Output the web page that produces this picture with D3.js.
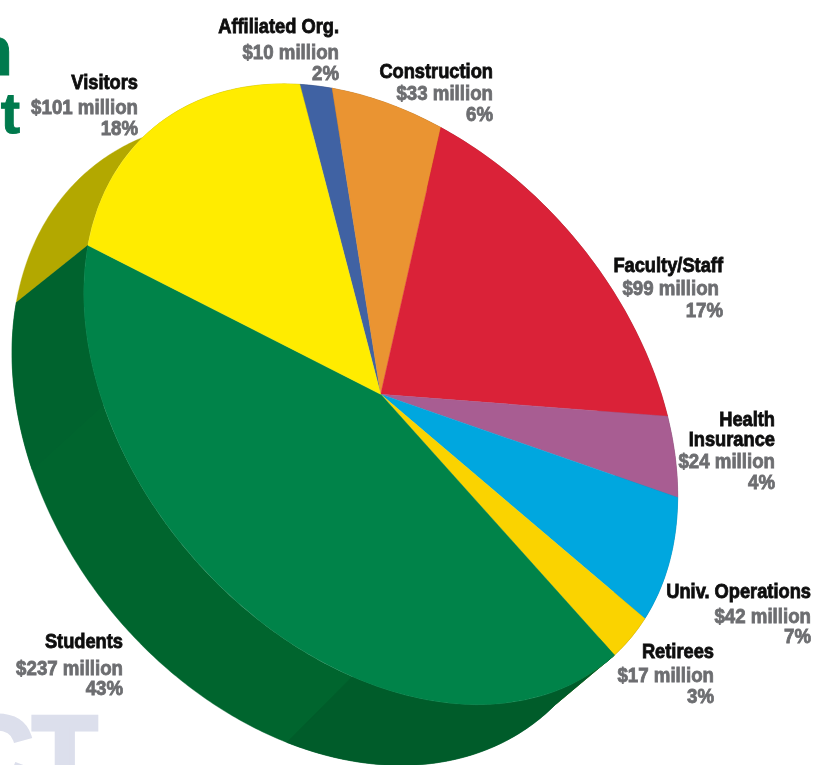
<!DOCTYPE html>
<html><head><meta charset="utf-8">
<script src="https://cdn.jsdelivr.net/npm/d3@7/dist/d3.min.js"></script>
<style>
html,body{margin:0;padding:0;background:#fff;overflow:hidden}
svg{display:block}
text{font-family:"Liberation Sans",sans-serif;font-weight:700}
</style></head><body>
<svg id="c" width="814" height="765"></svg>
<script>
const categories=["Affiliated Org.","Construction","Faculty/Staff","Health Insurance","Univ. Operations","Retirees","Students","Visitors"];
const amounts=[10,33,99,24,42,17,237,101];
const amountLabels=["$10 million","$33 million","$99 million","$24 million","$42 million","$17 million","$237 million","$101 million"];
const percentLabels=["2%","6%","17%","4%","7%","3%","43%","18%"];
const topColors=["#3f62a3","#ea9430","#da2237","#a85d92","#00a7df","#fad300","#048349","#ffec00"];
const sideColors=["#2c4472","#a36722","#981826","#753f66","#00749c","#af9300","#05652f","#b3a800"];

const startDeg=-15.8;
// top face and lower rim: centre x, centre y, then the ellipse frame
const rim={cx:380.7,cy:394.3,a:297,b:101.4,d:293.4};
const floor={cx:316,cy:443,a:304,b:90,d:309.5};
const svg=d3.select("#c");
const defs=svg.append("defs");
defs.append("filter").attr("id","soft").append("feGaussianBlur").attr("stdDeviation",0.6);
defs.append("filter").attr("id","softer").append("feGaussianBlur").attr("stdDeviation",0.35);

// cropped fragments of the surrounding page
const green="#007a4d",ghost="#dcdfec";
const bg=svg.append("g").attr("filter","url(#softer)");
bg.append("text").text("n").attr("x",13).attr("y",75).attr("text-anchor","end")
  .attr("fill",green).style("font-size","70px").attr("stroke",green).attr("stroke-width",1);
bg.append("text").text("t").attr("x",20).attr("y",133).attr("text-anchor","end")
  .attr("fill",green).style("font-size","58px").attr("stroke",green).attr("stroke-width",1);
bg.append("text").text("CT").attr("x",97).attr("y",790).attr("text-anchor","end")
  .attr("fill",ghost).attr("stroke",ghost).attr("stroke-width",5).style("font-size","105px");

const slices=d3.pie().sort(null).value(d=>d.v)
  .startAngle(startDeg*Math.PI/180).endAngle((startDeg+360)*Math.PI/180)
  (amounts.map((v,i)=>({v,i})));

const at=(e,t)=>{const u=Math.sin(t),v=-Math.cos(t);return [e.cx+e.a*u,e.cy+e.b*u+e.d*v];};
const line=d3.line();
function wall(a0,a1){
  const n=Math.max(4,Math.ceil((a1-a0)*90));
  const ts=d3.range(n+1).map(k=>a0+(a1-a0)*k/n);
  return line(ts.map(t=>at(rim,t)).concat(ts.slice().reverse().map(t=>at(floor,t))))+"Z";
}
const plate=svg.append("g").attr("filter","url(#softer)");
plate.append("g").selectAll("path").data(slices).join("path")
  .attr("d",d=>wall(d.startAngle,d.endAngle))
  .attr("fill",d=>sideColors[d.data.i]).attr("stroke",d=>sideColors[d.data.i]).attr("stroke-width",.4);
// tone changes along the Students wall
const st=slices[6],rad=Math.PI/180;
plate.append("path").attr("d",wall(st.startAngle,185.5*rad)).attr("fill","#035b2c").attr("stroke","#035b2c").attr("stroke-width",.4);
plate.append("path").attr("d",wall(249*rad,st.endAngle)).attr("fill","#05632f").attr("stroke","#05632f").attr("stroke-width",.4);
// top face
const arc=d3.arc().innerRadius(0).outerRadius(rim.a);
plate.append("g").attr("transform",`matrix(1,${rim.b/rim.a},0,${rim.d/rim.a},${rim.cx},${rim.cy})`)
  .selectAll("path").data(slices).join("path")
  .attr("d",arc)
  .attr("fill",d=>topColors[d.data.i]).attr("stroke",d=>topColors[d.data.i]).attr("stroke-width",.4);

// labels: right edge and the baseline of each line
const labelLayout=[
 {r:339,b:[33,59,80]},
 {r:493,b:[78,100,121]},
 {r:723,b:[272,295,317],inset:4},
 {r:775,b:[426,446,468,489],split:["Health","Insurance"]},
 {r:811,b:[598,623,643]},
 {r:714,b:[658,682,703]},
 {r:123,b:[648,675,695]},
 {r:138,b:[89,114,135]}
];
const lab=svg.append("g").attr("filter","url(#soft)");
const put=(g,s,x,y,fill,sx,sw)=>g.append("text").text(s)
  .attr("transform",`translate(${x},${y}) scale(${sx},1)`).attr("text-anchor","end")
  .attr("fill",fill).attr("stroke",fill).attr("stroke-width",sw).style("font-size","21px");
categories.forEach((c,i)=>{
  const L=labelLayout[i],names=L.split||[c],g=lab.append("g");
  names.forEach((n,j)=>put(g,n,L.r,L.b[j],"#0b0b0c",.87,.85));
  const k=names.length;
  put(g,amountLabels[i],L.r-(L.inset||0),L.b[k],"#6d6e71",.89,.85);
  put(g,percentLabels[i],L.r,L.b[k+1],"#6d6e71",.89,.85);
});
</script></body></html>
